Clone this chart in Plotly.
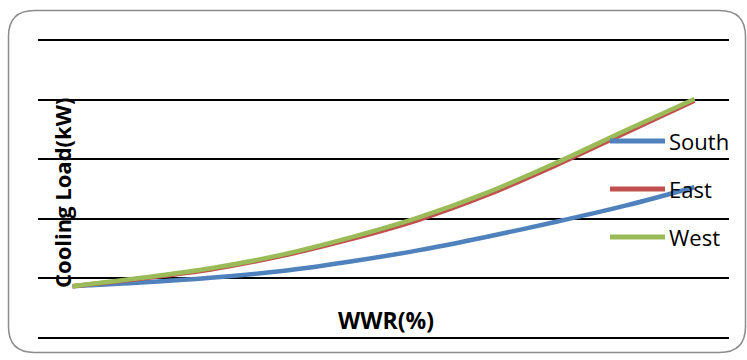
import plotly.graph_objects as go

# Window-to-wall ratio categories (%) and cooling load per orientation (kW)
wwr = [10, 20, 30, 40, 50, 60, 70, 80, 90, 100]
south = [0.87, 0.93, 1.01, 1.12, 1.28, 1.47, 1.70, 1.95, 2.22, 2.53]
east = [0.87, 1.00, 1.15, 1.37, 1.65, 1.98, 2.40, 2.90, 3.44, 3.98]
west = [0.87, 1.01, 1.17, 1.39, 1.68, 2.02, 2.44, 2.94, 3.48, 4.01]

series_names = ["South", "East", "West"]
series_values = [south, east, west]
series_colors = ["#4F81BD", "#C0504D", "#9BBB59"]

W, H = 747, 360
ML, MR, MT, MB = 38, 18, 34, 16
PW, PH = W - ML - MR, H - MT - MB
Y_RANGE = [-0.1, 5.1]


def px(x):
    return (x - ML) / PW


def py(y):
    return (H - MB - y) / PH


fig = go.Figure()
for name, vals, col in zip(series_names, series_values, series_colors):
    fig.add_trace(go.Scatter(
        x=wwr, y=vals, name=name, mode="lines",
        line=dict(color=col, width=4.5, shape="spline", smoothing=0.9),
        showlegend=False,
    ))

shapes = []
annotations = []

# rounded chart frame
x0, x1, y0, y1, r = 8.5, 745.5, 10.5, 352.5, 26
frame = (
    f"M {px(x0 + r)},{py(y0)} L {px(x1 - r)},{py(y0)} "
    f"Q {px(x1)},{py(y0)} {px(x1)},{py(y0 + r)} "
    f"L {px(x1)},{py(y1 - r)} Q {px(x1)},{py(y1)} {px(x1 - r)},{py(y1)} "
    f"L {px(x0 + r)},{py(y1)} Q {px(x0)},{py(y1)} {px(x0)},{py(y1 - r)} "
    f"L {px(x0)},{py(y0 + r)} Q {px(x0)},{py(y0)} {px(x0 + r)},{py(y0)} Z"
)
shapes.append(dict(type="path", path=frame, xref="paper", yref="paper",
                   line=dict(color="#8C8C8C", width=1.5), layer="below"))

# legend entries at the right
leg_y = [141, 189, 237]
for name, col, ly in zip(series_names, series_colors, leg_y):
    shapes.append(dict(type="line", xref="paper", yref="paper",
                       x0=px(610), x1=px(665), y0=py(ly), y1=py(ly),
                       line=dict(color=col, width=5)))
    annotations.append(dict(text=name, xref="paper", yref="paper",
                            x=px(667), y=py(ly), xanchor="left", yanchor="middle",
                            showarrow=False,
                            font=dict(family="Open Sans", size=22, color="#000000")))

annotations.append(dict(text="<b>Cooling Load(kW)</b>", xref="paper", yref="paper",
                        x=px(62), y=py(193), textangle=-90, showarrow=False,
                        xanchor="center", yanchor="middle",
                        font=dict(family="Open Sans", size=22, color="#000000")))
annotations.append(dict(text="<b>WWR(%)</b>", xref="paper", yref="paper",
                        x=px(386), y=py(320), showarrow=False,
                        xanchor="center", yanchor="middle",
                        font=dict(family="Open Sans", size=23, color="#000000")))

fig.update_layout(
    width=W, height=H,
    margin=dict(l=ML, r=MR, t=MT, b=MB),
    paper_bgcolor="white", plot_bgcolor="white",
    shapes=shapes, annotations=annotations,
    xaxis=dict(range=[5, 105], showgrid=False, zeroline=False, showline=False,
               showticklabels=False, ticks=""),
    yaxis=dict(range=Y_RANGE, dtick=1, tick0=0, showgrid=True,
               gridcolor="#000000", gridwidth=2, zeroline=False,
               showline=False, showticklabels=False, ticks=""),
)

fig.write_html("out.html")
